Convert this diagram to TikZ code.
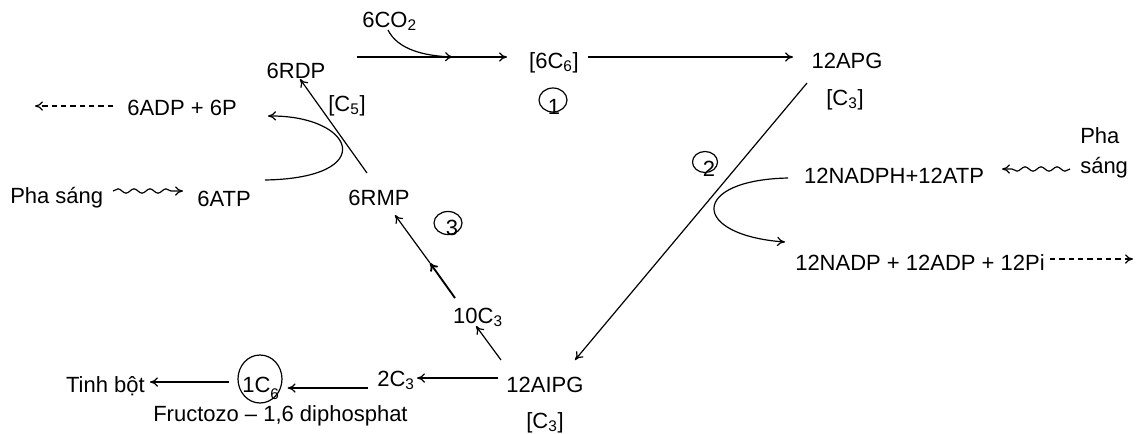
\documentclass[tikz,border=0pt]{standalone}
\usepackage{fontspec}
\setmainfont{Liberation Sans}
\usetikzlibrary{arrows.meta,decorations.pathmorphing,shapes.geometric}
\begin{document}
\begin{tikzpicture}[x=0.75pt,y=-0.75pt,
  lbl/.style={inner sep=0pt, font=\fontsize{16.5}{22}\selectfont, anchor=base},
  conn/.style={line width=0.9pt, -{To[length=6pt,width=7pt]}},
  dashconn/.style={conn, dash pattern=on 4pt off 3pt},
  wavy/.style={conn, decorate, decoration={snake, amplitude=1.6pt, segment length=12pt, post length=5pt}},
  ring/.style={draw, ellipse, line width=0.9pt, inner sep=0pt},
]
\useasboundingbox (0,0) rectangle (1141,433);

% text nodes
\node[lbl, anchor=base west] (co2) at (362,27) {6CO\textsubscript{2}};
\node[lbl] (rdp) at (296,78) {6RDP};
\node[lbl] (c6) at (554,68) {[6C\textsubscript{6}]};
\node[lbl] (apg) at (847,68) {12APG};
\node[lbl] (apgc) at (845,105) {[C\textsubscript{3}]};
\node[lbl] (c5) at (347,111) {[C\textsubscript{5}]};
\node[lbl] (adp6) at (182,115) {6ADP + 6P};
\node[lbl, anchor=base west] (phaL) at (10,203) {Pha sáng};
\node[lbl] (atp6) at (224,206) {6ATP};
\node[lbl] (rmp) at (379,205) {6RMP};
\node[lbl] (nadph) at (894,183) {12NADPH+12ATP};
\node[lbl, anchor=base west, align=left] (phaR) at (1080,173) {Pha\\sáng};
\node[lbl] (nadp) at (920,270) {12NADP + 12ADP + 12Pi};
\node[lbl] (c3ten) at (478,323) {10C\textsubscript{3}};
\node[lbl] (aipg) at (545,392) {12AIPG};
\node[lbl] (aipgc) at (545,428) {[C\textsubscript{3}]};
\node[lbl] (c3two) at (396,386) {2C\textsubscript{3}};
\node[lbl] (c6one) at (261,392) {1C\textsubscript{\raisebox{-3pt}{6}}};
\node[lbl, anchor=base east] (tinh) at (145,392) {Tinh bột};
\node[lbl, anchor=base west] (fruc) at (153,421) {Fructozo – 1,6 diphosphat};

% numbered rings
\node[ring, minimum width=21pt, minimum height=18pt] (k1) at (553,100) {};
\node[lbl] (d1) at (554,114) {1};
\node[ring, minimum width=18.75pt, minimum height=15.75pt] (k2) at (705,162) {};
\node[lbl] (d2) at (709,176) {2};
\node[ring, minimum width=21pt, minimum height=17.25pt] (k3) at (448,223) {};
\node[lbl] (d3) at (452,235) {3};
\node[ring, minimum width=33pt, minimum height=36pt] (k6) at (260,379) {};

% main cycle
\draw[conn] ([shift={(61,-21)}]rdp.base) -- ([shift={(-47,-11)}]c6.base);
\draw[conn] ([shift={(26,3)}]co2.base west) .. controls +(10,20) and +(-28,-1) .. ([shift={(157,-21)}]rdp.base);
\draw[conn] ([shift={(34,-11)}]c6.base) -- ([shift={(-54,-11)}]apg.base);
\draw[conn] ([shift={(-40,15)}]apg.base) -- ([shift={(30,-32)}]aipg.base);
\draw[conn] ([shift={(-47,-14)}]aipg.base) -- ([shift={(21,-8)}]c3two.base);
\draw[conn] ([shift={(-44,-32)}]aipg.base) -- ([shift={(-2,3)}]c3ten.base);
\coordinate (mid) at (430,263);
\draw[conn, line width=1.4pt] ([shift={(-23,-25)}]c3ten.base) -- (mid);
\draw[conn] (mid) -- ([shift={(16,10)}]rmp.base);
\draw[conn] ([shift={(-12,-32)}]rmp.base) -- ([shift={(4,1)}]rdp.base);

% left side energy
\draw[conn] ([shift={(41,-26)}]atp6.base) .. controls +(115,-2) and +(87,-1) .. ([shift={(86,1)}]adp6.base);
\draw[dashconn] ([shift={(-69,-9)}]adp6.base) -- ([shift={(-147,-9)}]adp6.base);
\draw[wavy] ([shift={(103,-12)}]phaL.base west) -- ([shift={(-41,-15)}]atp6.base);

% right side energy
\draw[wavy] ([shift={(-10,-4)}]phaR.base west) -- ([shift={(108,-14)}]nadph.base);
\draw[conn] ([shift={(-106,-5)}]nadph.base) .. controls +(-98,2) and +(-95,-7) .. ([shift={(-135,-28)}]nadp.base);
\draw[dashconn] ([shift={(130,-11)}]nadp.base) -- ([shift={(213,-11)}]nadp.base);

% bottom branch
\draw[conn] ([shift={(-28,2)}]c3two.base) -- ([shift={(5,9)}]k6.east);
\draw[conn] ([shift={(-8,3)}]k6.west) -- ([shift={(5,-10)}]tinh.base east);
\end{tikzpicture}
\end{document}
